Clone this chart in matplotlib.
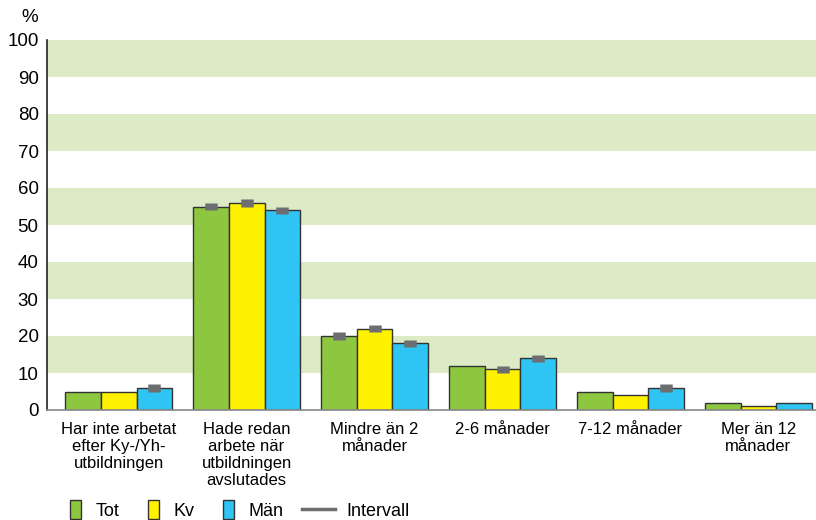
import numpy as np
import matplotlib.pyplot as plt
from matplotlib.patches import Patch
from matplotlib.lines import Line2D

plt.rcParams['font.family'] = ['Liberation Sans', 'DejaVu Sans']

categories = ['Har inte arbetat\nefter Ky-/Yh-\nutbildningen',
              'Hade redan\narbete när\nutbildningen\navslutades',
              'Mindre än 2\nmånader',
              '2-6 månader',
              '7-12 månader',
              'Mer än 12\nmånader']
tot = [5, 55, 20, 12, 5, 2]
kv = [5, 56, 22, 11, 4, 1]
man = [6, 54, 18, 14, 6, 2]
# interval markers (nan = none shown)
tot_int = [np.nan, 55, 20, np.nan, np.nan, np.nan]
kv_int = [np.nan, 56, 22, 11, np.nan, np.nan]
man_int = [6, 54, 18, 14, 6, np.nan]

series = [('Tot', tot, tot_int, '#8dc63f'),
          ('Kv', kv, kv_int, '#fff200'),
          ('Män', man, man_int, '#2ec4f3')]

fig = plt.figure(figsize=(8.16, 5.2), dpi=100)
ax = fig.add_axes([47/816, 110/520, 769/816, 370/520])

# green bands
for lo in range(10, 100, 20):
    ax.axhspan(lo, lo + 10, color='#dceac6', lw=0, zorder=0)

x = np.arange(len(categories))
w = 0.28
for i, (name, vals, ints, col) in enumerate(series):
    xs = x + (i - 1) * w
    ax.bar(xs, vals, width=w, color=col, edgecolor='#333333', linewidth=1, zorder=2)
    ax.errorbar(xs, ints, yerr=1.0, fmt='none', ecolor='#6d6e71',
                elinewidth=9, capsize=0, zorder=3)

ax.set_xlim(-0.56, 5.45)
ax.set_ylim(0, 100)
ax.set_yticks(range(0, 101, 10))
ax.set_xticks(x)
ax.set_xticklabels(categories, fontsize=12, linespacing=1.15)
ax.tick_params(axis='y', length=0, labelsize=13.5, pad=6)
ax.tick_params(axis='x', length=0, pad=9)
for s in ['top', 'right']:
    ax.spines[s].set_visible(False)
ax.spines['left'].set_color('#222222')
ax.spines['bottom'].set_color('#888888')
ax.spines['left'].set_linewidth(1.2)
ax.spines['bottom'].set_linewidth(1.2)

fig.text(30/816, 1 - 18/520, '%', fontsize=13.5, ha='center', va='center')

# legend: boxes for series, separate one for the interval line
handles = [Patch(facecolor=c, edgecolor='#333333', label=n) for n, _, _, c in series]
fig.legend(handles=handles, loc='lower left', bbox_to_anchor=(70/816, 0.5/520),
           ncol=3, frameon=False, fontsize=13, handlelength=0.6,
           handleheight=1.2, columnspacing=1.6, handletextpad=0.8,
           borderpad=0, borderaxespad=0)
line_h = [Line2D([0], [0], color='#6d6e71', lw=2.5, label='Intervall')]
fig.legend(handles=line_h, loc='lower left', bbox_to_anchor=(302/816, 0.5/520),
           frameon=False, fontsize=13, handlelength=1.8, handletextpad=0.65,
           borderpad=0, borderaxespad=0)

fig.savefig('out.png', dpi=100)
